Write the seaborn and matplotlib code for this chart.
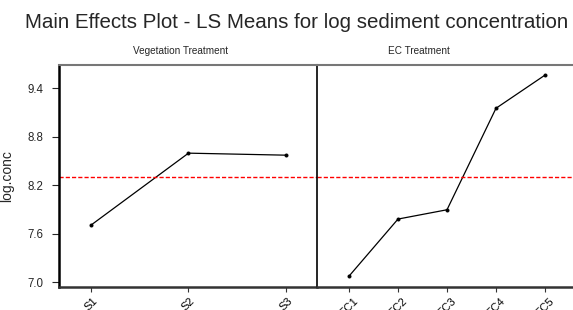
import matplotlib
matplotlib.use("Agg")
import matplotlib.pyplot as plt
import seaborn as sns
import pandas as pd

veg_levels = ["S1", "S2", "S3"]
veg_means = [7.705, 8.595, 8.570]
ec_levels = ["EC1", "EC2", "EC3", "EC4", "EC5"]
ec_means = [7.074, 7.780, 7.895, 9.150, 9.560]
grand_mean = 8.295
y_ticks = [7.0, 7.6, 8.2, 8.8, 9.4]

sns.set_style("ticks")
plt.rcParams["font.family"] = ["Liberation Sans", "DejaVu Sans"]

W, H = 573, 310
fig = plt.figure(figsize=(W / 100, H / 100), dpi=100)

def fx(px):
    return px / W

def fy(py):
    return 1 - py / H

top, bot = 65, 287
ax1 = fig.add_axes([fx(59), fy(bot), fx(317 - 59), (bot - top) / H])
ax2 = fig.add_axes([fx(317), fy(bot), fx(577 - 317), (bot - top) / H])

veg_df = pd.DataFrame({"level": veg_levels, "mean": veg_means})
ec_df = pd.DataFrame({"level": ec_levels, "mean": ec_means})

for ax, df in [(ax1, veg_df), (ax2, ec_df)]:
    sns.pointplot(data=df, x="level", y="mean", ax=ax, color="black",
                  markers="o", linestyles="-", markersize=2.2, linewidth=0.9)
    ax.axhline(grand_mean, color="#ff0000", linestyle=(0, (3, 1.5)), linewidth=1.0)
    ax.set_ylim(6.94, 9.685)
    ax.set_xlabel("")
    ax.set_ylabel("")
    for lab in ax.get_xticklabels():
        lab.set_rotation(45)
        lab.set_ha("center")
        lab.set_va("top")
        lab.set_fontsize(8)
    ax.tick_params(axis="x", length=3.5, width=0.8, colors="#333333", pad=3, labelcolor="black")
    ax.spines["top"].set_color("#777777")
    ax.spines["top"].set_linewidth(1.5)
    ax.spines["bottom"].set_color("#333333")
    ax.spines["bottom"].set_linewidth(1.8)
    ax.spines["right"].set_visible(False)
    ax.set_facecolor("white")

ax1.set_xlim(-0.328, 2.318)
ax2.set_xlim(-0.653, 4.653)

ax1.set_yticks(y_ticks)
ax1.set_yticklabels([f"{v:.1f}" for v in y_ticks], fontsize=8.3)
ax1.tick_params(axis="y", length=5, width=0.8, pad=6)
ax1.spines["left"].set_linewidth(1.8)
ax1.spines["left"].set_color("black")
ax1.set_ylabel("log.conc", fontsize=10, labelpad=10)

ax2.set_yticks([])
ax2.spines["left"].set_linewidth(1.2)
ax2.spines["left"].set_color("black")

fig.text(fx(296.5), fy(28), "Main Effects Plot - LS Means for log sediment concentration",
         ha="center", va="baseline", fontsize=14.8)
fig.text(fx(181), fy(54), "Vegetation Treatment", ha="center", va="baseline", fontsize=7.2)
fig.text(fx(418.5), fy(54), "EC Treatment", ha="center", va="baseline", fontsize=7.2)

fig.savefig("out.png", dpi=100)
